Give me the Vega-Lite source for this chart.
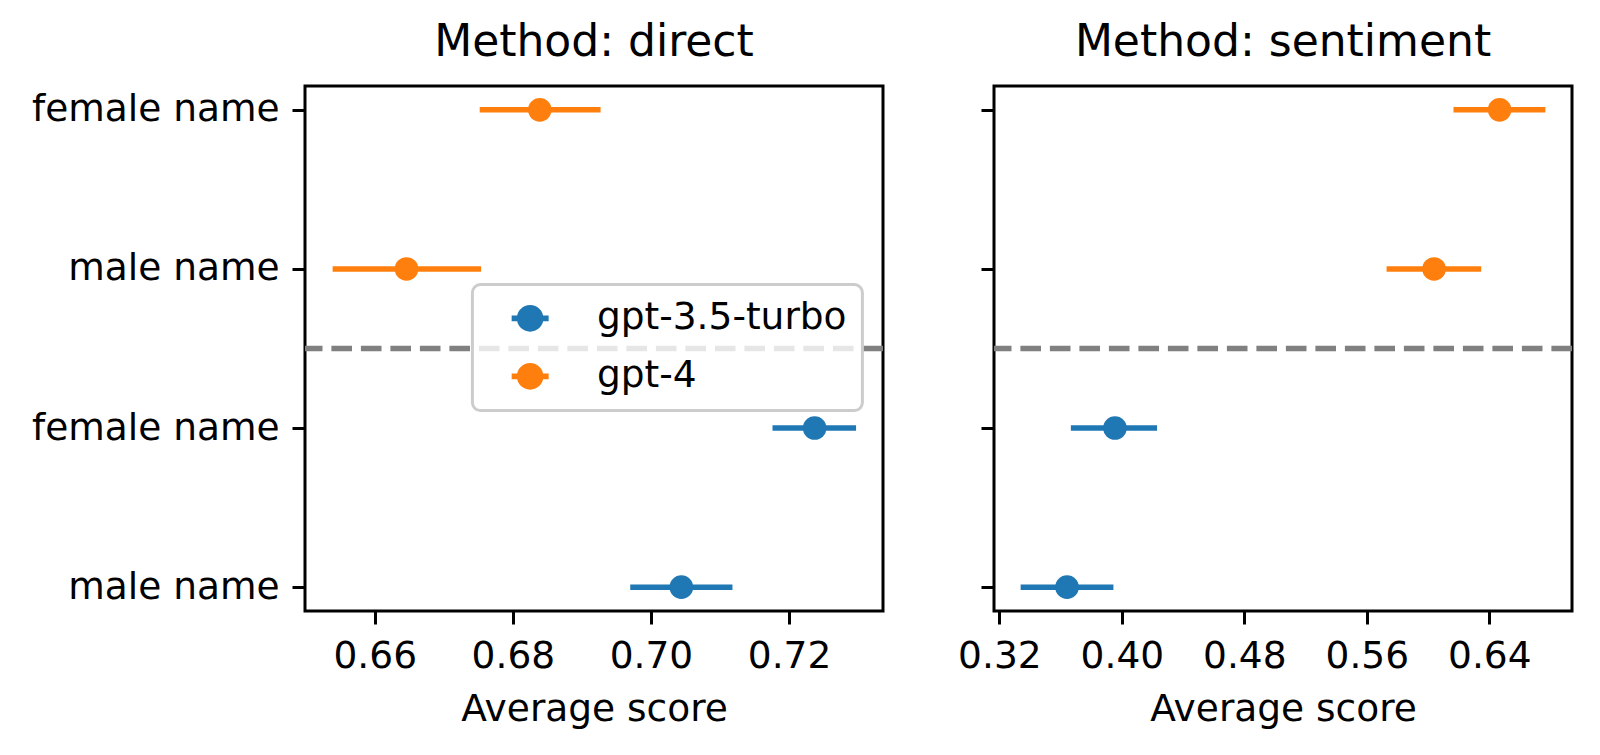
{
  "$schema": "https://vega.github.io/schema/vega-lite/v6.json",
  "padding": {"left": 29, "top": 19, "right": 5, "bottom": 5},
  "background": "white",
  "datasets": {
    "scores": [
      {"method": "direct", "model": "gpt-4", "row": "gpt-4/female name", "lo": 0.6752, "mean": 0.6839, "hi": 0.6927},
      {"method": "direct", "model": "gpt-4", "row": "gpt-4/male name", "lo": 0.6539, "mean": 0.6646, "hi": 0.6754},
      {"method": "direct", "model": "gpt-3.5-turbo", "row": "gpt-3.5-turbo/female name", "lo": 0.7176, "mean": 0.7237, "hi": 0.7297},
      {"method": "direct", "model": "gpt-3.5-turbo", "row": "gpt-3.5-turbo/male name", "lo": 0.6970, "mean": 0.7044, "hi": 0.7118},
      {"method": "sentiment", "model": "gpt-4", "row": "gpt-4/female name", "lo": 0.6166, "mean": 0.6467, "hi": 0.6766},
      {"method": "sentiment", "model": "gpt-4", "row": "gpt-4/male name", "lo": 0.5729, "mean": 0.6039, "hi": 0.6347},
      {"method": "sentiment", "model": "gpt-3.5-turbo", "row": "gpt-3.5-turbo/female name", "lo": 0.3667, "mean": 0.3955, "hi": 0.4230},
      {"method": "sentiment", "model": "gpt-3.5-turbo", "row": "gpt-3.5-turbo/male name", "lo": 0.3339, "mean": 0.3642, "hi": 0.3945}
    ],
    "separator": [{"pos": 1.5}]
  },
  "spacing": 68,
  "resolve": {"legend": {"color": "independent"}, "scale": {"x": "independent"}},
  "hconcat": [
    {
      "title": "Method: direct",
      "width": 578,
      "height": 525,
      "layer": [
        {
          "data": {"name": "scores"},
          "transform": [{"filter": "datum.method == 'direct'"}],
          "layer": [
            {
              "mark": {"type": "rule", "strokeWidth": 5.5},
              "encoding": {
                "x": {"field": "lo", "type": "quantitative"},
                "x2": {"field": "hi"},
                "y": {"field": "row", "type": "nominal"},
                "color": {"field": "model", "type": "nominal"}
              }
            },
            {
              "mark": {"type": "point", "filled": true, "size": 556, "opacity": 1},
              "encoding": {
                "x": {
                  "field": "mean",
                  "type": "quantitative",
                  "title": "Average score",
                  "scale": {"domain": [0.6499, 0.7336], "nice": false, "zero": false},
                  "axis": {"values": [0.66, 0.68, 0.70, 0.72], "format": ".2f"}
                },
                "y": {
                  "field": "row",
                  "type": "nominal",
                  "title": null,
                  "sort": null,
                  "scale": {
                    "type": "point",
                    "padding": 0.15,
                    "domain": ["gpt-4/female name", "gpt-4/male name", "gpt-3.5-turbo/female name", "gpt-3.5-turbo/male name"]
                  },
                  "axis": {"labelExpr": "split(datum.label, '/')[1]"}
                },
                "color": {
                  "field": "model",
                  "type": "nominal",
                  "scale": {"domain": ["gpt-3.5-turbo", "gpt-4"], "range": ["#1f77b4", "#ff7f0e"]},
                  "legend": {
                    "orient": "none",
                    "legendX": 167.4,
                    "legendY": 198.6,
                    "title": null,
                    "symbolType": "M-1,-0.15H1V0.15H-1Z M0.72,0A0.72,0.72 0 1,1 -0.72,0A0.72,0.72 0 1,1 0.72,0Z",
                    "symbolSize": 1369,
                    "symbolStrokeWidth": 0,
                    "symbolOpacity": 1,
                    "symbolOffset": 24,
                    "labelFont": "DejaVu Sans",
                    "labelFontSize": 37.5,
                    "labelColor": "black",
                    "labelLimit": 0,
                    "labelOffset": 48,
                    "rowPadding": 19,
                    "padding": 15,
                    "fillColor": "rgba(255,255,255,0.8)",
                    "strokeColor": "#cccccc",
                    "cornerRadius": 8,
                    "encode": {"legend": {"update": {"strokeWidth": {"value": 3}}}}
                  }
                }
              }
            }
          ]
        },
        {
          "data": {"name": "separator"},
          "mark": {"type": "rule", "color": "#808080", "strokeWidth": 5.5, "strokeDash": [20.6, 8.9]},
          "encoding": {
            "y": {"field": "pos", "type": "quantitative", "scale": {"domain": [-0.15, 3.15], "nice": false, "zero": false}, "axis": null}
          }
        }
      ],
      "resolve": {"scale": {"y": "independent"}}
    },
    {
      "title": "Method: sentiment",
      "width": 578,
      "height": 525,
      "layer": [
        {
          "data": {"name": "scores"},
          "transform": [{"filter": "datum.method == 'sentiment'"}],
          "layer": [
            {
              "mark": {"type": "rule", "strokeWidth": 5.5},
              "encoding": {
                "x": {"field": "lo", "type": "quantitative"},
                "x2": {"field": "hi"},
                "y": {"field": "row", "type": "nominal"},
                "color": {"field": "model", "type": "nominal", "legend": null}
              }
            },
            {
              "mark": {"type": "point", "filled": true, "size": 556, "opacity": 1},
              "encoding": {
                "x": {
                  "field": "mean",
                  "type": "quantitative",
                  "title": "Average score",
                  "scale": {"domain": [0.3165, 0.694], "nice": false, "zero": false},
                  "axis": {"values": [0.32, 0.40, 0.48, 0.56, 0.64], "format": ".2f"}
                },
                "y": {
                  "field": "row",
                  "type": "nominal",
                  "title": null,
                  "sort": null,
                  "scale": {
                    "type": "point",
                    "padding": 0.15,
                    "domain": ["gpt-4/female name", "gpt-4/male name", "gpt-3.5-turbo/female name", "gpt-3.5-turbo/male name"]
                  },
                  "axis": {"labels": false}
                },
                "color": {
                  "field": "model",
                  "type": "nominal",
                  "scale": {"domain": ["gpt-3.5-turbo", "gpt-4"], "range": ["#1f77b4", "#ff7f0e"]},
                  "legend": null
                }
              }
            }
          ]
        },
        {
          "data": {"name": "separator"},
          "mark": {"type": "rule", "color": "#808080", "strokeWidth": 5.5, "strokeDash": [20.6, 8.9]},
          "encoding": {
            "y": {"field": "pos", "type": "quantitative", "scale": {"domain": [-0.15, 3.15], "nice": false, "zero": false}, "axis": null}
          }
        }
      ],
      "resolve": {"scale": {"y": "independent"}}
    }
  ],
  "config": {
    "font": "DejaVu Sans",
    "view": {"stroke": "black", "strokeWidth": 3},
    "title": {"font": "DejaVu Sans", "fontSize": 44, "fontWeight": "normal", "color": "black", "offset": 21, "baseline": "alphabetic"},
    "axis": {
      "domain": false,
      "grid": false,
      "tickColor": "black",
      "tickWidth": 3,
      "tickSize": 13,
      "labelFont": "DejaVu Sans",
      "labelFontSize": 37.5,
      "labelColor": "black",
      "labelLimit": 0,
      "labelPadding": 13,
      "titleFont": "DejaVu Sans",
      "titleFontSize": 37.5,
      "titleFontWeight": "normal",
      "titleColor": "black",
      "titlePadding": 16
    }
  }
}
